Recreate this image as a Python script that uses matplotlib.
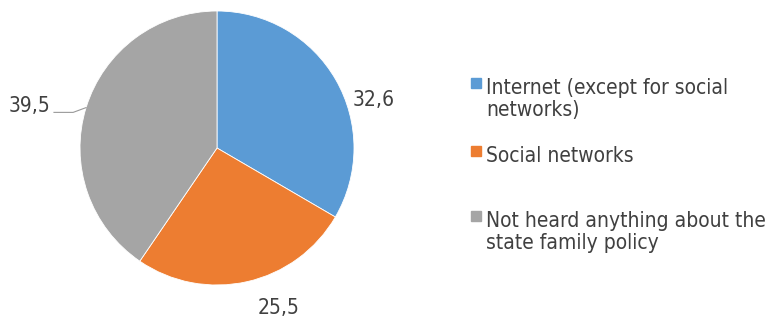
import matplotlib
matplotlib.use("Agg")
import matplotlib.pyplot as plt
from matplotlib.patches import Rectangle
import numpy as np

categories = ["Internet (except for social\nnetworks)", "Social networks",
              "Not heard anything about the\nstate family policy"]
values = [32.6, 25.5, 39.5]
value_labels = ["32,6", "25,5", "39,5"]
colors = ["#5B9BD5", "#ED7D31", "#A5A5A5"]
text_color = "#404040"

W, H = 766, 321
fig = plt.figure(figsize=(W / 100, H / 100), dpi=100)
fig.patch.set_facecolor("white")

cx, cy, r = 217, 148, 137
ax = fig.add_axes([(cx - r) / W, (H - cy - r) / H, 2 * r / W, 2 * r / H])
wedges, _ = ax.pie(values, colors=colors, startangle=90, counterclock=False,
                   radius=1.0, wedgeprops=dict(edgecolor="white", linewidth=0.6))
ax.set_xlim(-1, 1)
ax.set_ylim(-1, 1)
ax.set_aspect("auto")
ax.axis("off")

font = dict(family="DejaVu Sans", stretch="condensed")
fs = 15

# value labels
label_pos = [(1.14, 0.35), (0.45, -1.17), (-1.37, 0.31)]
for (x, y), t in zip(label_pos, value_labels):
    ax.text(x, y, t, ha="center", va="center", fontsize=fs, color=text_color,
            clip_on=False, **font)

# leader line for the grey slice
theta = np.deg2rad(90 - 360 * (values[0] + values[1] + values[2] / 2) / sum(values) + 360)
ex, ey = np.cos(theta), np.sin(theta)
ax.plot([-1.19, -1.05, ex], [0.26, 0.26, ey], color="#999999", lw=0.8,
        clip_on=False)

# legend
rows_y = [85, 153, 218]
for yy, lab, col in zip(rows_y, categories, colors):
    fig.patches.append(Rectangle((471 / W, (H - yy - 3) / H), 10 / W, 10 / H,
                                 transform=fig.transFigure, color=col))
    fig.text(486 / W, (H - yy + 7) / H, lab, ha="left", va="top",
             fontsize=fs, color=text_color, linespacing=1.15, **font)

fig.savefig("out.png", dpi=100)
